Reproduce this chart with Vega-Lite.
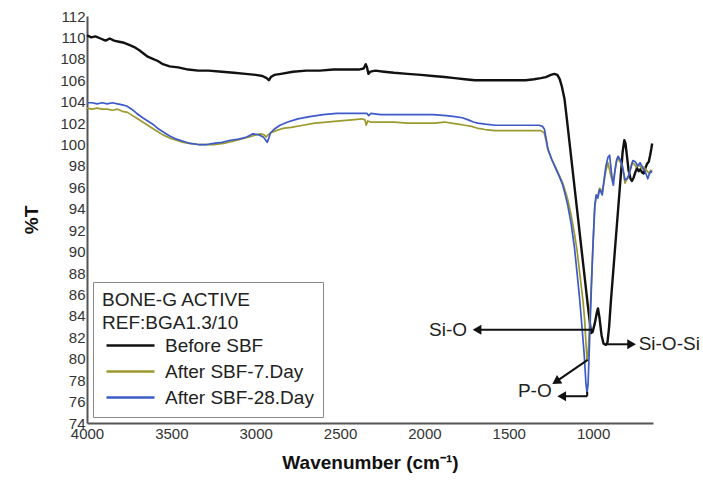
{
"$schema":"https://vega.github.io/schema/vega-lite/v6.json",
"width":566,"height":407,
"autosize":{"type":"none"},
"padding":{"left":87,"top":16,"right":50,"bottom":61},
"background":"white",
"config":{"view":{"stroke":null},"font":"Liberation Sans","axis":{"labelOverlap":false,"labelFlush":false,"labelBound":false}},
"datasets":{
"black":[[4000,110.2],[3975,110.0],[3950,110.1],[3920,109.9],[3890,109.7],[3865,109.9],[3840,109.7],[3810,109.6],[3780,109.5],[3750,109.3],[3720,109.1],[3690,108.8],[3665,108.5],[3640,108.2],[3610,108.0],[3580,107.8],[3550,107.5],[3510,107.3],[3460,107.2],[3400,107.0],[3340,106.9],[3280,106.9],[3200,106.8],[3130,106.7],[3060,106.6],[3000,106.5],[2960,106.4],[2935,106.2],[2922,106.0],[2910,106.3],[2890,106.5],[2850,106.6],[2780,106.8],[2700,106.9],[2620,106.9],[2540,107.0],[2460,107.0],[2390,107.0],[2360,107.1],[2348,107.5],[2340,107.2],[2332,106.6],[2320,106.8],[2290,106.9],[2240,106.8],[2180,106.7],[2100,106.6],[2020,106.5],[1950,106.4],[1880,106.3],[1820,106.2],[1760,106.1],[1700,106.0],[1620,106.0],[1540,106.0],[1460,106.0],[1400,106.0],[1350,106.1],[1310,106.2],[1280,106.3],[1250,106.5],[1230,106.6],[1212,106.5],[1198,106.1],[1185,105.4],[1170,104.3],[1155,102.3],[1130,98.8],[1110,96.0],[1090,93.2],[1070,90.4],[1050,87.6],[1030,84.8],[1012,82.4],[1003,82.5],[990,83.3],[978,84.3],[971,84.7],[962,83.8],[950,82.2],[938,81.4],[924,81.3],[915,81.5],[905,83.0],[895,85.3],[880,88.3],[860,92.3],[840,96.3],[825,99.3],[815,100.4],[808,100.1],[800,99.0],[790,97.6],[778,96.8],[770,96.6],[760,96.9],[750,97.4],[740,97.8],[730,97.5],[720,97.7],[710,97.4],[700,97.3],[690,97.8],[680,98.2],[670,98.4],[662,99.0],[655,99.6],[650,100.1]],
"yellow":[[4000,103.4],[3970,103.3],[3940,103.4],[3910,103.3],[3880,103.3],[3850,103.2],[3820,103.3],[3790,103.1],[3760,103.0],[3730,102.7],[3700,102.4],[3670,102.1],[3640,101.8],[3610,101.5],[3580,101.2],[3550,100.9],[3510,100.6],[3470,100.4],[3430,100.2],[3390,100.1],[3340,100.0],[3290,100.0],[3240,100.0],[3190,100.1],[3140,100.3],[3090,100.5],[3040,100.7],[3000,100.9],[2970,101.0],[2950,100.9],[2938,100.7],[2928,100.9],[2910,101.1],[2880,101.3],[2840,101.5],[2790,101.6],[2720,101.8],[2650,102.0],[2580,102.1],[2500,102.2],[2430,102.3],[2370,102.4],[2352,102.3],[2345,101.8],[2336,102.2],[2320,102.1],[2260,102.1],[2180,102.1],[2100,102.0],[2020,102.0],[1940,102.0],[1880,102.1],[1840,102.0],[1800,101.9],[1760,101.8],[1720,101.7],[1680,101.5],[1640,101.4],[1580,101.3],[1500,101.3],[1420,101.3],[1350,101.3],[1310,101.3],[1290,101.1],[1278,100.3],[1268,99.5],[1245,98.6],[1220,97.8],[1200,97.1],[1180,96.4],[1160,95.4],[1148,94.7],[1130,93.4],[1110,91.6],[1095,90.1],[1078,87.8],[1060,85.4],[1050,83.6],[1042,81.3],[1036,79.9],[1030,80.3],[1020,83.5],[1010,87.2],[1000,90.9],[990,94.2],[982,95.0],[972,95.2],[962,95.9],[954,95.8],[947,95.4],[938,96.2],[925,97.5],[912,98.3],[902,97.6],[892,96.9],[882,96.6],[872,97.4],[862,98.4],[852,98.8],[842,98.4],[830,98.2],[820,97.3],[811,96.4],[802,96.7],[793,96.9],[782,97.6],[770,98.3],[758,98.2],[745,97.9],[733,98.1],[722,98.0],[710,97.7],[698,97.9],[688,97.6],[678,97.5],[668,97.3],[658,97.6],[650,97.5]],
"blue":[[4000,103.9],[3970,103.9],[3940,103.8],[3910,103.9],[3880,103.8],[3850,103.9],[3820,103.8],[3790,103.7],[3765,103.6],[3735,103.3],[3705,102.9],[3670,102.5],[3640,102.2],[3610,101.9],[3580,101.5],[3550,101.2],[3510,100.8],[3470,100.5],[3430,100.3],[3390,100.1],[3340,100.0],[3290,100.0],[3250,100.1],[3200,100.2],[3150,100.4],[3100,100.5],[3053,100.7],[3016,101.0],[2980,100.9],[2955,100.7],[2940,100.4],[2932,100.2],[2922,100.6],[2912,101.1],[2885,101.5],[2856,101.8],[2810,102.1],[2750,102.4],[2680,102.6],[2600,102.8],[2520,102.9],[2440,102.9],[2360,102.9],[2340,102.9],[2330,102.7],[2318,102.9],[2260,102.8],[2180,102.8],[2100,102.8],[2020,102.8],[1950,102.8],[1870,102.7],[1820,102.6],[1775,102.5],[1740,102.3],[1710,102.1],[1683,102.0],[1640,101.9],[1580,101.8],[1500,101.8],[1420,101.8],[1360,101.8],[1320,101.8],[1300,101.7],[1288,101.4],[1278,100.5],[1268,99.6],[1245,98.6],[1220,97.7],[1200,97.0],[1182,96.3],[1165,95.3],[1150,94.3],[1130,92.6],[1110,90.3],[1095,88.0],[1080,85.6],[1065,82.8],[1052,80.2],[1043,77.8],[1036,76.8],[1030,77.6],[1024,80.2],[1016,84.0],[1008,87.6],[1000,90.9],[990,94.3],[982,95.3],[972,95.0],[962,95.8],[954,95.6],[946,95.3],[936,96.6],[924,98.0],[912,98.8],[902,99.0],[894,97.8],[886,96.6],[880,96.2],[870,97.6],[860,98.6],[852,98.9],[840,98.6],[829,98.2],[818,97.3],[811,96.7],[800,96.8],[790,97.1],[776,97.8],[764,98.5],[750,98.4],[735,98.0],[722,98.3],[708,97.9],[695,97.6],[685,97.2],[676,96.8],[668,97.2],[658,97.5],[650,97.4]],
"arrows":[{"x":1003,"y":82.7,"x2":1688,"y2":82.7},{"x":1032,"y":79.9,"x2":1220,"y2":77.86},{"x":1035,"y":76.5,"x2":1186,"y2":76.5},{"x":1035,"y":76.9,"x2":1035,"y2":76.5},{"x":924,"y":81.35,"x2":772,"y2":81.35}],
"heads":[{"k":"Si-O","x":1688,"y":82.7},{"k":"P-O-h","x":1186,"y":76.5},{"k":"Si-O-Si","x":772,"y":81.35},{"k":"P-O-d","x":1220,"y":77.86}],
"labels":[{"t":"Si-O","x":1718,"y":82.7},{"t":"P-O","x":1216,"y":77.0},{"t":"Si-O-Si","x":742,"y":81.35}]
},
"layer":[
{"data":{"name":"black"},
 "transform":[{"calculate":"datum[0]","as":"x"},{"calculate":"datum[1]","as":"y"},{"calculate":"'Before SBF'","as":"s"}],
 "mark":{"type":"line","strokeWidth":2.4,"strokeJoin":"round"},
 "encoding":{
  "x":{"field":"x","type":"quantitative","scale":{"domain":[645,4000],"reverse":true,"nice":false,"zero":false},"title":"Wavenumber (cm⁻¹)",
   "axis":{"values":[4000,3500,3000,2500,2000,1500,1000],"tickCount":40,"format":"d","labelFlush":false,"labelOverlap":false,"ticks":false,"labelPadding":3,"domainColor":"#555","domainWidth":2,"labelFontSize":15,"labelColor":"#333","grid":false,"titleFontSize":19,"titleFontWeight":"bold","titlePadding":12,"titleColor":"#111"}},
  "y":{"field":"y","type":"quantitative","scale":{"domain":[74,112],"nice":false,"zero":false},"title":"%T",
   "axis":{"values":[74,76,78,80,82,84,86,88,90,92,94,96,98,100,102,104,106,108,110,112],"tickCount":40,"labelFlush":false,"labelOverlap":false,"ticks":false,"labelPadding":2,"domainColor":"#555","domainWidth":2,"labelFontSize":15,"labelColor":"#333","grid":false,"titleFontSize":19,"titleFontWeight":"bold","titlePadding":18,"titleColor":"#111"}},
  "color":{"field":"s","type":"nominal","scale":{"domain":["Before SBF","After SBF-7.Day","After SBF-28.Day"],"range":["#111111","#9c9a2e","#3d5ac8"]},
   "legend":{"orient":"none","legendX":6,"legendY":266,"title":["BONE-G ACTIVE","REF:BGA1.3/10"],"titleFontSize":19,"titleFontWeight":"normal","titleColor":"#222","titleLineHeight":23,"titlePadding":3,"titleLimit":300,"labelFontSize":19,"labelColor":"#222","labelOffset":44,"labelLimit":300,"symbolType":"M-1.25,0H10.75","symbolSize":64,"symbolStrokeWidth":2.5,"rowPadding":6,"padding":9,"strokeColor":"#888","fillColor":"white"}}
 }},
{"data":{"name":"yellow"},
 "transform":[{"calculate":"datum[0]","as":"x"},{"calculate":"datum[1]","as":"y"},{"calculate":"'After SBF-7.Day'","as":"s"}],
 "mark":{"type":"line","strokeWidth":1.7,"strokeJoin":"round"},
 "encoding":{"x":{"field":"x","type":"quantitative"},"y":{"field":"y","type":"quantitative"},"color":{"field":"s","type":"nominal"}}},
{"data":{"name":"blue"},
 "transform":[{"calculate":"datum[0]","as":"x"},{"calculate":"datum[1]","as":"y"},{"calculate":"'After SBF-28.Day'","as":"s"}],
 "mark":{"type":"line","strokeWidth":1.7,"strokeJoin":"round"},
 "encoding":{"x":{"field":"x","type":"quantitative"},"y":{"field":"y","type":"quantitative"},"color":{"field":"s","type":"nominal"}}},
{"data":{"name":"arrows"},"mark":{"type":"rule","color":"#111","strokeWidth":2},
 "encoding":{"x":{"field":"x","type":"quantitative"},"y":{"field":"y","type":"quantitative"},"x2":{"field":"x2"},"y2":{"field":"y2"}}},
{"data":{"name":"heads"},"transform":[{"filter":"datum.k=='Si-O' || datum.k=='P-O-h'"}],
 "mark":{"type":"point","shape":"triangle-left","filled":true,"color":"#111","size":100,"opacity":1},
 "encoding":{"x":{"field":"x","type":"quantitative"},"y":{"field":"y","type":"quantitative"}}},
{"data":{"name":"heads"},"transform":[{"filter":"datum.k=='Si-O-Si'"}],
 "mark":{"type":"point","shape":"triangle-right","filled":true,"color":"#111","size":100,"opacity":1},
 "encoding":{"x":{"field":"x","type":"quantitative"},"y":{"field":"y","type":"quantitative"}}},
{"data":{"name":"heads"},"transform":[{"filter":"datum.k=='P-O-d'"}],
 "mark":{"type":"point","shape":"triangle-up","angle":238,"filled":true,"color":"#111","size":100,"opacity":1},
 "encoding":{"x":{"field":"x","type":"quantitative"},"y":{"field":"y","type":"quantitative"}}},
{"data":{"name":"labels"},"transform":[{"filter":"datum.t!='Si-O-Si'"}],
 "mark":{"type":"text","align":"right","baseline":"middle","dx":-5,"fontSize":19,"color":"#222"},
 "encoding":{"x":{"field":"x","type":"quantitative"},"y":{"field":"y","type":"quantitative"},"text":{"field":"t"}}},
{"data":{"name":"labels"},"transform":[{"filter":"datum.t=='Si-O-Si'"}],
 "mark":{"type":"text","align":"left","baseline":"middle","dx":2,"fontSize":19,"color":"#222"},
 "encoding":{"x":{"field":"x","type":"quantitative"},"y":{"field":"y","type":"quantitative"},"text":{"field":"t"}}}
]
}
